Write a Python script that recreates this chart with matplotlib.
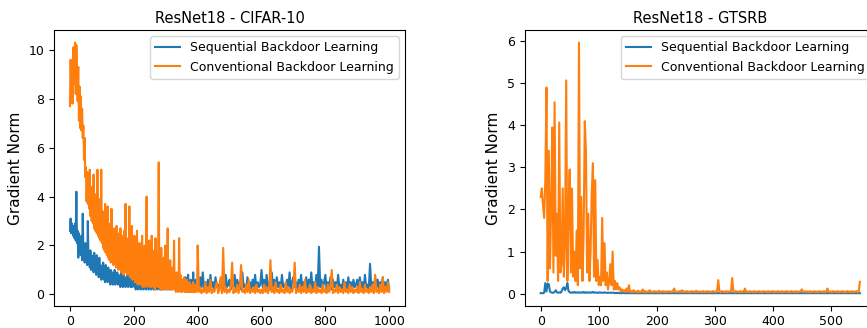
import numpy as np
import matplotlib
matplotlib.use("Agg")
import matplotlib.pyplot as plt

# ---------------- data: CIFAR-10 ----------------
# epochs 0..398 sampled every 2, epochs 400..1000 sampled every 4
cifar_x = np.concatenate([np.arange(0, 400, 2), np.arange(400, 1001, 4)])
cifar_conventional = [
    # 0..398 (step 2)
    7.7, 9.6, 8.3, 9.4, 7.8, 10.1, 8.6, 9.9, 10.3, 8.2, 10.2, 9.0, 7.9, 9.3, 7.1, 8.5, 6.8, 8.1, 6.7, 7.6, 6.4, 6.9, 5.5, 6.4, 4.8,
    5.2, 3.8, 5.0, 3.7, 4.6, 3.5, 5.1, 3.2, 4.4, 3.0, 4.2, 2.9, 4.9, 2.7, 3.9, 2.6, 4.1, 2.5, 5.1, 2.4, 3.6, 2.3, 3.9, 2.2, 5.1,
    2.1, 3.4, 1.9, 3.0, 1.8, 3.7, 1.7, 2.8, 1.6, 3.6, 1.5, 2.9, 1.4, 2.6, 1.3, 3.5, 1.6, 2.4, 1.2, 2.7, 1.3, 2.3, 1.1, 2.8, 1.2,
    2.5, 1.0, 2.2, 1.3, 2.7, 0.9, 2.4, 1.1, 2.1, 0.8, 2.6, 0.9, 3.7, 1.0, 2.3, 0.8, 2.0, 1.1, 3.6, 0.7, 2.1, 0.9, 2.8, 0.6, 1.9,
    0.7, 2.4, 0.5, 1.8, 0.6, 2.6, 0.4, 1.5, 0.5, 2.1, 0.4, 1.7, 0.6, 2.4, 0.3, 1.4, 0.5, 2.0, 0.3, 1.2, 4.0, 0.4, 1.6, 0.3, 2.2,
    0.4, 1.3, 0.3, 2.4, 0.5, 1.1, 0.3, 1.8, 0.2, 2.3, 0.4, 1.0, 0.3, 1.6, 5.4, 0.3, 1.2, 0.2, 1.9, 0.4, 0.9, 0.2, 1.5, 0.3, 2.0,
    0.2, 1.2, 0.3, 2.7, 0.2, 0.9, 0.3, 1.4, 0.2, 0.8, 0.2, 1.1, 0.3, 2.2, 0.2, 0.7, 0.1, 0.9, 0.2, 0.6, 0.1, 2.3, 0.2, 0.8, 0.1,
    0.6, 0.1, 0.5, 0.2, 0.7, 0.1, 0.4, 0.1, 0.6, 0.1, 0.3, 0.1, 0.5, 0.1, 0.4, 0.1, 0.3, 0.1, 0.5, 0.1, 0.3, 0.1, 0.4, 0.1, 0.2,
    # 400..1000 (step 4)
    2.0, 0.1, 0.3, 0.05, 0.2, 0.1, 0.5, 0.05, 0.3, 0.1, 0.6, 0.05, 0.2, 0.1, 0.3, 0.5, 0.05, 0.2, 0.7, 0.05, 1.9, 0.1, 0.3, 0.05, 0.2,
    0.1, 0.3, 1.3, 0.05, 0.2, 0.1, 0.4, 0.05, 0.3, 1.2, 0.1, 0.2, 0.05, 0.4, 0.1, 0.6, 0.05, 0.2, 0.1, 0.3, 0.05, 0.4, 0.1, 0.2, 0.05,
    0.2, 0.05, 0.4, 0.1, 0.3, 0.05, 0.2, 1.4, 0.1, 0.3, 0.05, 0.5, 0.1, 0.2, 0.05, 0.4, 0.1, 0.2, 0.05, 0.5, 0.1, 0.3, 0.05, 0.2, 0.1,
    0.3, 1.3, 0.05, 0.2, 0.1, 0.4, 0.05, 0.3, 0.1, 0.6, 0.05, 0.2, 0.1, 0.4, 0.05, 0.2, 0.1, 0.5, 0.05, 0.3, 0.1, 0.2, 0.05, 0.4, 0.1,
    0.2, 0.05, 0.4, 0.1, 0.3, 1.0, 0.05, 0.2, 0.1, 0.4, 0.05, 0.3, 0.1, 0.2, 0.05, 0.5, 0.1, 0.2, 0.05, 0.4, 0.1, 0.3, 0.05, 0.2, 0.1,
    0.3, 0.05, 0.5, 0.1, 0.2, 0.05, 0.4, 0.1, 0.2, 0.05, 0.3, 0.1, 0.4, 0.05, 0.8, 0.1, 0.2, 0.05, 0.4, 0.1, 0.7, 0.05, 0.3, 0.1, 0.5,
    0.1,
]
cifar_sequential = [
    # 0..398 (step 2)
    2.6, 3.1, 2.5, 2.9, 2.7, 2.4, 2.8, 2.3, 2.9, 2.2, 4.2, 2.1, 2.6, 1.5, 2.5, 1.9, 2.3, 1.6, 2.4, 1.4, 3.3, 1.7, 2.0, 1.3, 2.1,
    1.5, 1.9, 1.2, 3.0, 1.3, 1.7, 1.1, 1.8, 1.0, 1.6, 1.2, 1.5, 0.9, 1.7, 1.0, 1.4, 0.8, 1.6, 0.9, 1.3, 0.7, 1.5, 0.8, 1.2, 0.6,
    1.1, 0.7, 1.3, 0.6, 1.0, 0.5, 1.2, 0.7, 0.9, 0.5, 1.1, 0.6, 0.8, 0.4, 1.0, 0.5, 0.9, 0.4, 0.8, 0.6, 1.0, 0.4, 0.7, 0.5, 0.9,
    0.4, 0.8, 0.5, 0.7, 0.3, 0.9, 0.4, 0.6, 0.3, 0.8, 0.4, 0.7, 0.3, 0.6, 0.4, 0.8, 0.3, 0.5, 0.4, 0.7, 0.3, 0.6, 0.3, 0.5, 0.4,
    0.8, 0.3, 0.5, 0.2, 0.6, 0.3, 0.4, 0.2, 0.5, 0.3, 0.6, 0.2, 0.4, 0.3, 0.5, 0.2, 0.7, 0.3, 0.4, 0.2, 0.5, 0.3, 0.6, 0.2, 0.4,
    0.3, 0.5, 0.2, 0.4, 0.3, 0.6, 0.2, 0.4, 0.2, 0.5, 0.3, 0.4, 0.2, 0.6, 0.3, 0.4, 0.2, 0.5, 0.2, 0.3, 0.2, 0.5, 0.3, 0.4, 0.2,
    0.3, 0.5, 0.2, 0.6, 0.3, 0.4, 0.2, 0.7, 0.3, 0.5, 0.2, 0.6, 0.3, 0.8, 0.2, 0.4, 0.3, 0.6, 0.2, 0.5, 0.3, 0.7, 0.2, 0.4, 0.3,
    0.5, 0.2, 0.6, 0.3, 0.4, 0.2, 0.7, 0.3, 0.5, 0.2, 0.8, 0.3, 0.4, 0.2, 0.6, 0.3, 0.5, 0.2, 0.9, 0.3, 0.4, 0.2, 0.6, 0.3, 0.5,
    # 400..1000 (step 4)
    0.5, 0.2, 0.7, 0.3, 0.9, 0.2, 0.5, 0.3, 0.6, 0.2, 0.8, 0.3, 0.5, 0.2, 0.7, 0.3, 0.4, 0.2, 0.6, 0.3, 0.5, 0.2, 0.8, 0.3, 0.4,
    0.6, 0.2, 0.5, 0.3, 0.8, 0.2, 0.6, 0.3, 0.5, 0.2, 0.9, 0.3, 0.4, 0.2, 0.7, 0.3, 0.5, 0.2, 0.6, 0.3, 0.8, 0.2, 0.5, 0.3, 0.4,
    1.0, 0.3, 0.6, 0.2, 0.8, 0.3, 0.5, 0.2, 0.9, 0.3, 0.6, 0.2, 0.7, 0.3, 0.5, 0.2, 0.8, 0.3, 0.4, 0.2, 0.6, 0.3, 0.9, 0.2, 0.5,
    0.7, 0.3, 0.5, 0.2, 0.6, 0.3, 0.8, 0.2, 0.5, 0.3, 0.7, 0.2, 0.6, 0.3, 0.9, 0.2, 0.5, 0.3, 0.8, 0.2, 1.95, 0.3, 0.6, 0.2, 0.5,
    0.8, 0.2, 0.5, 0.3, 0.7, 0.2, 0.6, 0.3, 0.5, 0.2, 0.8, 0.3, 0.4, 0.2, 0.6, 0.3, 0.5, 0.2, 0.7, 0.3, 0.5, 0.2, 0.6, 0.3, 0.4,
    0.6, 0.2, 0.7, 0.3, 0.5, 0.2, 0.8, 0.3, 0.4, 0.2, 1.25, 0.3, 0.5, 0.2, 0.7, 0.3, 0.6, 0.2, 0.5, 0.3, 0.7, 0.2, 0.5, 0.3, 0.6,
    0.2,
]

# ---------------- data: GTSRB (epochs 0..550, every 2) ----------------
gtsrb_x = np.arange(0, 551, 2)
gtsrb_conventional = [
    2.3, 2.5, 2.1, 1.8, 2.7, 4.9, 0.3, 3.4, 0.6, 2.0, 3.95, 0.5, 4.55, 0.9, 1.9, 0.3, 4.07, 0.5, 0.7, 2.5,
    0.4, 1.2, 5.07, 0.3, 2.0, 2.95, 0.5, 2.5, 0.4, 1.0, 0.3, 1.5, 0.2, 5.97, 0.6, 2.3, 0.3, 1.4, 4.1, 3.4,
    0.5, 1.9, 0.3, 1.0, 2.4, 3.1, 0.4, 2.7, 0.3, 0.8, 0.2, 0.4, 0.2, 1.8, 0.3, 1.2, 0.2, 0.5, 0.1, 0.3,
    0.7, 0.2, 1.0, 0.1, 0.3, 0.1, 0.25, 0.1, 0.15, 0.05, 0.1, 0.05, 0.08, 0.04, 0.12, 0.05, 0.2, 0.04,
    0.06, 0.03, 0.08, 0.04, 0.05, 0.03, 0.07, 0.03, 0.05, 0.04, 0.10, 0.03, 0.06, 0.03, 0.05, 0.04, 0.08, 0.03, 0.05, 0.03,
    0.06, 0.04, 0.05, 0.03, 0.07, 0.03, 0.05, 0.04, 0.06, 0.03, 0.05, 0.03, 0.06, 0.04, 0.05, 0.03, 0.07, 0.12, 0.05, 0.03,
    0.05, 0.04, 0.06, 0.03, 0.08, 0.03, 0.05, 0.04, 0.06, 0.03, 0.05, 0.03, 0.06, 0.04, 0.05, 0.03, 0.07, 0.03, 0.05, 0.04,
    0.05, 0.03, 0.06, 0.03, 0.05, 0.04, 0.06, 0.03, 0.05, 0.03, 0.06, 0.04, 0.05, 0.03, 0.07, 0.32, 0.05, 0.03, 0.06, 0.04,
    0.05, 0.03, 0.06, 0.03, 0.05, 0.04, 0.06, 0.37, 0.05, 0.03, 0.06, 0.04, 0.05, 0.03, 0.06, 0.03, 0.05, 0.04, 0.12, 0.03,
    0.05, 0.03, 0.06, 0.04, 0.05, 0.03, 0.06, 0.03, 0.05, 0.04, 0.06, 0.03, 0.05, 0.03, 0.06, 0.04, 0.05, 0.03, 0.06, 0.03,
    0.05, 0.04, 0.06, 0.03, 0.05, 0.03, 0.06, 0.04, 0.05, 0.03, 0.06, 0.03, 0.05, 0.04, 0.06, 0.03, 0.05, 0.03, 0.06, 0.04,
    0.05, 0.03, 0.06, 0.03, 0.05, 0.04, 0.06, 0.10, 0.05, 0.03, 0.06, 0.04, 0.05, 0.03, 0.06, 0.03, 0.05, 0.04, 0.06, 0.03,
    0.05, 0.03, 0.06, 0.04, 0.05, 0.03, 0.06, 0.03, 0.05, 0.12, 0.06, 0.03, 0.05, 0.03, 0.06, 0.04, 0.05, 0.03, 0.06, 0.03,
    0.05, 0.04, 0.06, 0.03, 0.05, 0.03, 0.06, 0.04, 0.05, 0.03, 0.06, 0.03, 0.05, 0.04, 0.06, 0.03, 0.05, 0.28,
]
gtsrb_sequential = [
    0.01, 0.01, 0.01, 0.02, 0.25, 0.05, 0.24, 0.22, 0.05, 0.03, 0.02, 0.02, 0.04, 0.08, 0.03, 0.02, 0.03, 0.02, 0.05, 0.12,
    0.15, 0.08, 0.13, 0.25, 0.06, 0.03, 0.02, 0.03, 0.02, 0.04, 0.02, 0.03, 0.02, 0.03, 0.02, 0.03, 0.02, 0.04, 0.02, 0.03,
    0.02, 0.03, 0.02, 0.03, 0.02, 0.04, 0.02, 0.03, 0.02, 0.02, 0.02, 0.03, 0.02, 0.02, 0.02, 0.03, 0.02, 0.02, 0.02, 0.02,
    0.02, 0.02, 0.02, 0.02, 0.01, 0.02, 0.01, 0.02, 0.01, 0.01, 0.01, 0.02, 0.01, 0.01, 0.01, 0.01, 0.01, 0.01,
] + [0.01] * 198

titles = ["ResNet18 - CIFAR-10", "ResNet18 - GTSRB"]
series_labels = ["Sequential Backdoor Learning", "Conventional Backdoor Learning"]
ylabel = "Gradient Norm"

fig = plt.figure(figsize=(8.67, 3.28), dpi=100)
ax1 = fig.add_axes([0.0623, 0.068, 0.405, 0.8405])
ax2 = fig.add_axes([0.6052, 0.068, 0.405, 0.8405])

panels = [
    (ax1, cifar_x, cifar_sequential, cifar_conventional),
    (ax2, gtsrb_x, gtsrb_sequential, gtsrb_conventional),
]
for (ax, xs, seq, conv), title in zip(panels, titles):
    ax.plot(xs, seq, color="#1f77b4", lw=1.5, label=series_labels[0])
    ax.plot(xs, conv, color="#ff7f0e", lw=1.5, label=series_labels[1])
    ax.set_title(title, fontsize=10.5, pad=5)
    ax.set_ylabel(ylabel, fontsize=11)
    ax.tick_params(labelsize=9)
    ax.legend(loc="upper right", fontsize=9)

fig.savefig("out.png", dpi=100)
